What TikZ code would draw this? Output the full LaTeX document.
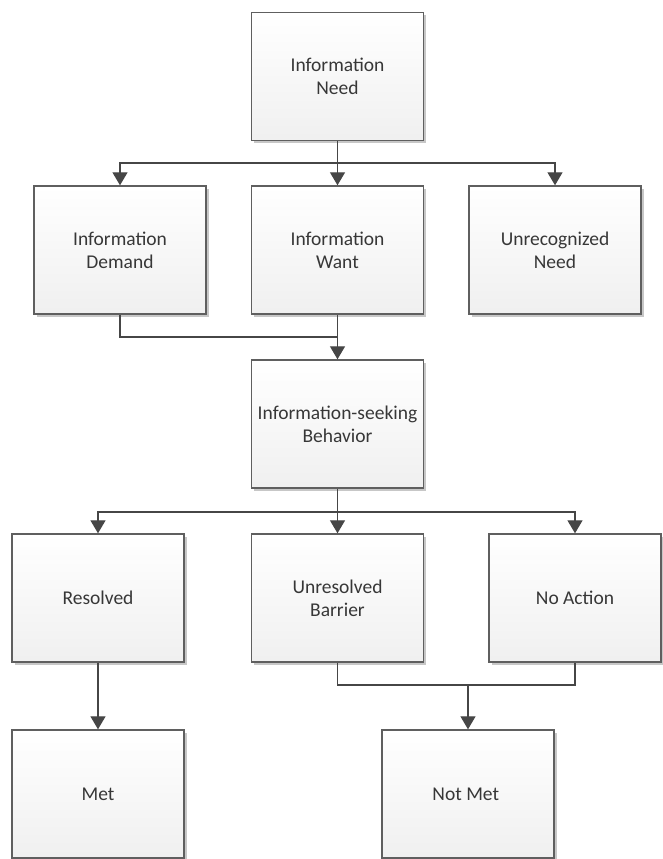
\documentclass[tikz,border=0pt]{standalone}
\usepackage{fontspec}
\setmainfont{Carlito}
\usepackage{xcolor}
\usepackage{tikz}
\usetikzlibrary{arrows.meta,shadows}

\definecolor{boxline}{RGB}{95,95,95}
\definecolor{wireline}{RGB}{70,70,70}
\definecolor{boxtext}{RGB}{55,55,55}

\begin{document}
\begin{tikzpicture}[x=1pt,y=-1pt,
    box/.style={draw=boxline,line width=1.4pt,top color=white,bottom color=gray!12,
      minimum width=172pt,minimum height=128pt,inner sep=0pt,align=center,
      text=boxtext,font=\fontsize{19.5}{23}\selectfont,
      drop shadow={shadow xshift=2.5pt,shadow yshift=-2.5pt,fill=black,opacity=.22}},
    wire/.style={draw=wireline,line width=1.3pt},
    arr/.style={wire,-{Triangle[width=15pt,length=13pt]}}]
    \useasboundingbox (0,0) rectangle (662,859);
    \foreach \name/\x/\y/\txt in {
     need/337.5/76.5/{Information\\Need},
     demand/120/250/{Information\\Demand}, want/337.5/250/{Information\\Want},
     unrec/555/250/{Unrecognized\\Need},
     seek/337.5/424/{Information-seeking\\Behavior},
     resolved/98/598/{Resolved}, unresolved/337.5/598/{Unresolved\\Barrier},
     noaction/575/598/{No Action},
     met/98/794/{Met}, notmet/468/794/{Not Met}
     } {
      \node[box] (\name) at (\x,\y) {\txt};
     }
    % branching points
    \coordinate (split) at (337.5,163);
    \coordinate (join) at (337.5,337);
    \coordinate (fork) at (337.5,512);
    \coordinate (merge) at (468,685);
    \draw[wire] (need) -- (split);
    \foreach \t in {demand,want,unrec}
      \draw[arr] (split) -| (\t);
    \draw[wire] (demand) |- (join);
    \draw[arr] (want) -- (seek);
    \draw[wire] (seek) -- (fork);
    \foreach \t in {resolved,unresolved,noaction}
      \draw[arr] (fork) -| (\t);
    \draw[arr] (resolved) -- (met);
    \draw[wire] (unresolved) |- (merge) -| (noaction);
    \draw[arr] (merge) -- (notmet);
   \end{tikzpicture}
\end{document}
